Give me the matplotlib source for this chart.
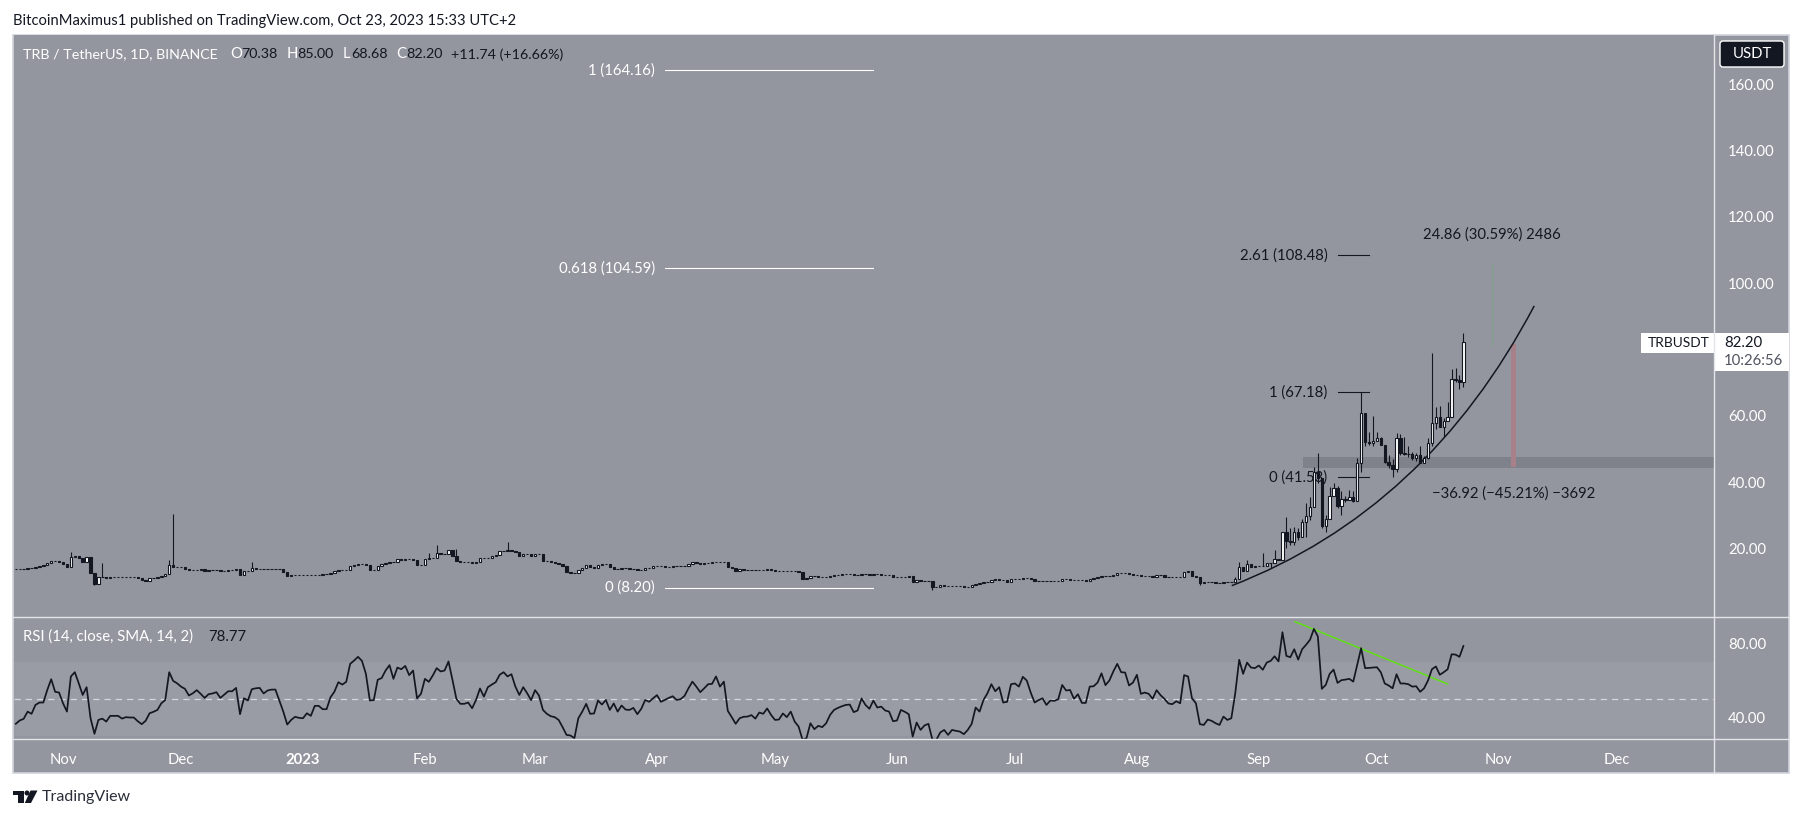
import matplotlib
matplotlib.use('Agg')
import matplotlib.pyplot as plt
import matplotlib.dates as mdates
import numpy as np
import pandas as pd
from matplotlib.path import Path
from matplotlib.patches import PathPatch, Rectangle, Polygon, Circle, FancyBboxPatch

plt.rcParams['font.family'] = ['Lato', 'DejaVu Sans']

W, H = 1807, 818
BG = '#94969f'
BAND = '#9a9ca5'
DARK = '#131722'
LINE = '#e3e5ea'
FS = 10.7

# daily closes, Oct 20 2022 -> Oct 23 2023
closes = [
    13.8, 13.8, 14.0, 14.2, 14.3, 14.6, 14.8, 15.1, 15.6, 16.4,
    16.4, 15.9, 15.5, 14.6, 17.4, 17.9, 17.1, 15.9, 17.4, 12.8,
    9.4, 11.4, 11.6, 11.3, 11.5, 11.5, 11.6, 11.6, 11.6, 11.5,
    11.4, 11.3, 10.6, 10.4, 11.1, 11.3, 11.6, 11.9, 12.3, 15.2,
    14.4, 14.6, 14.4, 13.9, 13.5, 13.5, 13.5, 13.8, 13.4, 13.6,
    13.6, 13.7, 13.4, 13.2, 13.6, 13.7, 13.9, 12.2, 13.2, 13.4,
    14.1, 14.0, 14.0, 13.9, 14.0, 14.0, 14.0, 14.0, 13.1, 11.8,
    12.1, 12.1, 12.1, 12.1, 12.1, 12.1, 12.1, 12.2, 12.5, 12.5,
    12.6, 13.2, 13.5, 13.5, 13.5, 14.9, 15.1, 15.5, 15.4, 15.2,
    13.6, 13.5, 14.9, 15.4, 15.6, 16.1, 16.0, 16.9, 16.7, 16.9,
    16.9, 16.6, 15.1, 15.2, 17.0, 17.2, 17.2, 18.6, 18.5, 18.4,
    19.5, 17.9, 16.4, 16.1, 16.1, 16.0, 15.8, 15.9, 17.3, 17.3,
    17.3, 17.8, 18.1, 19.2, 19.4, 19.6, 19.4, 19.1, 17.8, 18.3,
    18.4, 17.8, 18.4, 18.4, 16.3, 16.2, 15.9, 15.6, 15.3, 14.8,
    13.1, 12.7, 12.6, 13.6, 14.3, 15.1, 14.4, 14.1, 15.2, 15.3,
    15.3, 14.4, 14.0, 14.0, 14.1, 14.2, 13.9, 13.8, 13.6, 13.7,
    14.3, 14.2, 14.7, 14.8, 14.9, 14.6, 14.6, 14.9, 14.9, 14.8,
    14.8, 15.4, 16.0, 15.7, 15.4, 15.6, 15.8, 16.0, 16.1, 16.1,
    16.1, 14.4, 14.1, 13.2, 13.8, 13.5, 13.6, 13.6, 13.6, 13.7,
    13.6, 13.8, 13.7, 13.4, 13.4, 13.3, 13.3, 13.3, 13.3, 12.9,
    11.0, 11.2, 11.9, 11.7, 11.6, 11.5, 11.4, 11.9, 12.1, 12.2,
    12.3, 12.3, 12.3, 12.1, 12.1, 12.4, 12.5, 12.2, 12.4, 12.4,
    12.1, 12.1, 12.1, 11.4, 11.5, 11.5, 11.6, 11.7, 10.0, 10.5,
    10.4, 10.4, 10.3, 8.4, 8.6, 9.0, 8.9, 8.8, 8.8, 8.8,
    8.7, 8.6, 8.6, 9.0, 9.4, 9.6, 9.9, 10.0, 10.6, 10.8,
    10.6, 10.6, 9.9, 10.9, 10.9, 11.0, 11.2, 11.2, 10.9, 10.4,
    10.4, 10.4, 10.3, 10.3, 10.3, 10.3, 10.8, 10.9, 10.7, 10.6,
    10.6, 10.5, 10.3, 11.0, 11.1, 11.4, 11.9, 11.9, 11.7, 12.2,
    12.7, 12.8, 12.7, 12.3, 12.2, 12.2, 11.9, 11.9, 11.7, 11.6,
    12.0, 12.0, 11.6, 11.4, 11.4, 11.4, 11.4, 12.9, 13.2, 11.8,
    11.4, 9.6, 10.0, 10.0, 10.0, 9.8, 9.8, 9.9, 10.0, 9.9,
    11.0, 14.4, 13.4, 15.3, 14.6, 14.8, 14.9, 14.8, 15.7, 15.8,
    16.8, 16.5, 25.0, 22.4, 22.1, 25.0, 23.4, 27.9, 29.9, 32.6,
    43.0, 41.2, 26.8, 29.0, 36.0, 38.4, 33.0, 34.9, 34.7, 35.5,
    34.4, 45.9, 60.8, 52.3, 52.0, 52.6, 53.3, 51.3, 46.2, 45.2,
    44.1, 53.3, 48.9, 48.5, 48.5, 47.3, 48.2, 45.9, 47.2, 51.8,
    57.8, 59.6, 56.8, 58.5, 59.8, 71.2, 70.85, 70.38, 82.2,
]

# wicks that stick out of the body (candle index: price)
wick_highs = {
    14: 19.1, 22: 15.6, 39: 16.6, 40: 30.5, 60: 15.9, 105: 18.6, 107: 21.1, 112: 19.9, 125: 21.9,
    310: 11.5, 311: 15.9, 313: 16.6, 317: 18.6, 320: 19.6, 323: 29.6, 324: 26.1, 325: 26.6,
    326: 26.1, 327: 29.1, 328: 33.7, 329: 35.7, 330: 44.7, 331: 48.7, 333: 30.3, 334: 38.7,
    335: 39.9, 336: 39.0, 337: 37.4, 338: 36.0, 339: 37.7, 340: 37.5, 341: 47.2, 342: 67.18,
    343: 61.0, 344: 55.3, 345: 60.0, 346: 55.3, 347: 53.8, 349: 48.2, 350: 46.9, 351: 54.8,
    352: 54.5, 353: 53.8, 354: 50.9, 355: 49.2, 356: 48.7, 357: 50.9, 358: 47.9, 359: 53.3,
    360: 78.9, 361: 62.6, 362: 63.0, 363: 59.3, 364: 64.1, 365: 74.2, 366: 74.6, 367: 72.3,
    368: 85.0,
}
wick_lows = {
    20: 9.0, 233: 7.5, 301: 9.0, 319: 14.1, 323: 20.2, 324: 21.1, 325: 21.1, 326: 22.6, 328: 23.4,
    329: 28.6, 331: 39.7, 332: 26.1, 333: 24.9, 336: 32.2, 337: 30.1, 338: 34.2, 340: 34.2,
    342: 43.0, 343: 50.9, 344: 51.2, 345: 51.0, 348: 45.9, 349: 44.2, 350: 41.5, 351: 43.2,
    352: 48.2, 353: 48.2, 354: 47.5, 355: 46.7, 356: 46.5, 357: 45.7, 358: 45.7, 359: 46.9,
    360: 50.9, 361: 56.0, 362: 56.6, 363: 53.8, 366: 70.3, 367: 68.1, 368: 68.68,
}

rsi = [
    36.7, 38.5, 39.4, 43.3, 42.1, 46.9, 48.2, 48.2, 55.0, 60.8,
    54.0, 53.6, 47.8, 43.3, 62.3, 64.6, 58.6, 52.3, 56.5, 39.7,
    31.3, 38.8, 39.5, 37.9, 41.0, 41.0, 41.0, 39.5, 40.3, 40.1,
    40.1, 38.1, 36.5, 38.3, 42.4, 43.2, 44.2, 47.8, 49.6, 64.6,
    59.9, 58.6, 56.8, 55.6, 52.0, 53.2, 54.9, 52.9, 50.7, 52.7,
    53.1, 53.8, 50.7, 52.5, 54.3, 54.3, 56.1, 41.9, 50.5, 49.3,
    55.4, 55.9, 56.1, 53.1, 54.7, 55.2, 55.2, 49.3, 43.3, 36.3,
    38.8, 40.5, 39.9, 39.7, 42.4, 41.0, 46.4, 46.4, 44.6, 44.6,
    51.0, 54.1, 59.2, 57.9, 59.4, 69.1, 70.9, 72.9, 70.7, 63.7,
    49.3, 49.5, 60.5, 61.4, 65.5, 68.4, 61.0, 67.1, 66.2, 68.0,
    63.0, 65.5, 50.5, 52.9, 61.0, 59.4, 62.8, 66.8, 65.0, 65.5,
    70.4, 60.5, 50.2, 47.5, 47.5, 48.2, 45.1, 49.6, 55.8, 51.4,
    56.5, 57.9, 59.2, 63.2, 64.6, 62.3, 63.5, 56.8, 52.3, 56.5,
    53.2, 49.5, 54.9, 52.0, 44.2, 42.1, 40.8, 40.3, 38.8, 34.9,
    30.7, 30.4, 28.9, 39.7, 43.3, 47.5, 42.1, 42.3, 49.3, 47.1,
    49.6, 44.2, 47.7, 43.3, 46.6, 44.4, 44.2, 45.3, 41.9, 44.8,
    49.6, 48.6, 50.5, 52.2, 48.6, 49.6, 50.7, 51.6, 49.6, 50.0,
    51.8, 55.9, 59.5, 56.8, 53.8, 55.9, 58.1, 58.3, 62.3, 56.8,
    59.5, 43.7, 40.3, 36.7, 39.7, 40.5, 40.6, 41.4, 39.5, 42.8,
    42.1, 45.0, 41.5, 38.8, 39.0, 42.3, 40.3, 43.3, 37.9, 35.2,
    28.0, 28.9, 37.0, 33.8, 35.6, 34.9, 37.0, 41.5, 44.2, 45.3,
    46.2, 46.9, 47.1, 43.0, 43.9, 50.4, 46.9, 44.8, 49.3, 45.5,
    46.0, 43.9, 43.3, 38.1, 38.5, 44.2, 43.2, 41.9, 29.8, 37.4,
    33.4, 35.8, 36.7, 28.2, 28.0, 32.0, 33.4, 30.7, 33.4, 32.9,
    32.5, 31.1, 33.4, 36.7, 45.5, 43.3, 49.6, 53.2, 58.1, 54.3,
    56.5, 48.2, 48.6, 58.1, 58.5, 56.8, 62.1, 60.1, 53.6, 48.2,
    49.5, 50.5, 46.9, 49.3, 49.1, 50.0, 57.7, 54.7, 55.0, 50.2,
    52.7, 48.0, 48.0, 56.8, 57.0, 59.0, 64.0, 57.6, 60.1, 65.0,
    69.1, 64.6, 64.4, 57.4, 59.0, 63.2, 52.9, 53.6, 52.9, 50.2,
    54.9, 52.2, 50.2, 47.7, 47.3, 48.9, 47.8, 63.0, 62.3, 50.5,
    47.8, 36.5, 36.1, 39.0, 38.3, 37.0, 36.1, 40.6, 38.8, 39.7,
    53.2, 71.3, 63.7, 69.8, 67.1, 66.8, 68.2, 65.9, 69.8, 70.7,
    73.2, 70.4, 86.2, 73.4, 72.7, 77.0, 71.4, 77.0, 79.4, 82.1,
    88.0, 83.9, 55.6, 57.7, 63.7, 66.0, 58.8, 60.3, 60.6, 61.0,
    59.5, 68.6, 77.6, 66.8, 66.9, 67.1, 67.3, 64.6, 58.5, 57.4,
    55.9, 63.5, 58.5, 58.5, 58.1, 56.8, 57.0, 54.0, 55.9, 60.1,
    66.2, 67.7, 63.2, 64.6, 66.2, 74.3, 74.1, 72.9, 78.77,
]

dates = pd.date_range('2022-10-20', periods=len(closes))
day0 = mdates.date2num(dates[0])

# 80.00 sits under the last price tag on the original
price_ticks = [20, 40, 60, 100, 120, 140, 160]
rsi_ticks = [40, 80]
month_ticks = ['2022-11-01', '2022-12-01', '2023-01-01', '2023-02-01', '2023-03-01', '2023-04-01', '2023-05-01',
               '2023-06-01', '2023-07-01', '2023-08-01', '2023-09-01', '2023-10-01', '2023-11-01', '2023-12-01']
month_labels = ['Nov', 'Dec', '2023', 'Feb', 'Mar', 'Apr', 'May', 'Jun', 'Jul', 'Aug', 'Sep', 'Oct', 'Nov', 'Dec']

# fib levels: label, price
white_fibs = [('1 (164.16)', 164.16), ('0.618 (104.59)', 104.59), ('0 (8.20)', 8.20)]
black_fibs = [('2.61 (108.48)', 108.48), ('1 (67.18)', 67.18), ('0 (41.53)', 41.53)]


def d(s):
    return mdates.date2num(pd.Timestamp(s))


def px_axes(x0, y0, x1, y1, **kw):
    return fig.add_axes([x0 / W, 1 - y1 / H, (x1 - x0) / W, (y1 - y0) / H], **kw)


fig = plt.figure(figsize=(W / 100, H / 100), dpi=100, facecolor='white')

# pixel layout
LEFT, AX_R, RIGHT = 13.5, 1713.6, 1789
TOP, PANE, RSI_B, BOTTOM = 34.5, 616.5, 739, 773

ov_back = px_axes(0, 0, W, H)
ov_back.set_xlim(0, W)
ov_back.set_ylim(H, 0)
ov_back.axis('off')
ov_back.add_patch(Rectangle((LEFT, TOP), RIGHT - LEFT, BOTTOM - TOP, fc=BG, ec='#d1d4dc', lw=1.2))

ax = px_axes(LEFT, TOP, AX_R, PANE, facecolor=BG)
ax2 = px_axes(LEFT, PANE, AX_R, RSI_B, facecolor=BG, sharex=ax)
for a in (ax, ax2):
    for s in a.spines.values():
        s.set_visible(False)

xmin, xmax = day0 - 0.585, day0 + 431.6
ax.set_xlim(xmin, xmax)
ax.set_ylim(-0.44, 175)
ax2.set_ylim(28.49, 94.7)

ax.yaxis.tick_right()
ax.set_yticks(price_ticks)
ax.set_yticklabels(['%.2f' % v for v in price_ticks])
ax2.yaxis.tick_right()
ax2.set_yticks(rsi_ticks)
ax2.set_yticklabels(['%.2f' % v for v in rsi_ticks])
ax.tick_params(axis='y', length=0, pad=10.5, labelcolor='white', labelsize=FS)
ax2.tick_params(axis='y', length=0, pad=10.5, labelcolor='white', labelsize=FS)
ax.tick_params(axis='x', length=0, labelbottom=False)

ax2.set_xticks([d(m) for m in month_ticks])
ax2.set_xticklabels(month_labels)
ax2.tick_params(axis='x', length=0, pad=10, labelcolor='white', labelsize=FS)
for lab in ax2.get_xticklabels():
    if lab.get_text() == '2023':
        lab.set_fontweight('bold')

# candles, open is the previous close
x = mdates.date2num(dates)
c = np.array(closes)
o = np.r_[c[0], c[:-1]]
hi = np.maximum(o, c)
lo = np.minimum(o, c)
for i, v in wick_highs.items():
    hi[i] = v
for i, v in wick_lows.items():
    lo[i] = v
up = c >= o
ax.vlines(x, lo, hi, color=DARK, lw=0.8, zorder=5)
ax.bar(x, np.abs(c - o), bottom=np.minimum(o, c), width=0.6,
       color=np.where(up, 'white', DARK).tolist(), edgecolor=DARK, lw=0.8, zorder=6)

# white fib on the left
for lab, v in white_fibs:
    ax.plot([d('2023-04-03'), d('2023-05-26')], [v, v], color='white', lw=0.8, zorder=3)
    ax.annotate(lab, (d('2023-04-03'), v), xytext=(-10, 0), textcoords='offset pixels', ha='right', va='center',
                color='white', fontsize=FS, zorder=3)

# black fib on the rally
for lab, v in black_fibs:
    ax.plot([d('2023-09-21'), d('2023-09-29')], [v, v], color=DARK, lw=0.8, zorder=3)
    ax.annotate(lab, (d('2023-09-21'), v), xytext=(-10, 0), textcoords='offset pixels', ha='right', va='center',
                color=DARK, fontsize=FS, zorder=3)

# support zone
ax.add_patch(Rectangle((day0 + 327.3, 44.4), xmax - day0 - 327.3, 3.15, fc='#80828b', ec='none', zorder=2))

# parabolic support
curve = Path([(day0 + 309.1, 8.85), (day0 + 358.7, 31.6), (day0 + 386, 93.2)],
             [Path.MOVETO, Path.CURVE3, Path.CURVE3])
ax.add_patch(PathPatch(curve, fc='none', ec=DARK, lw=1.1, zorder=4))

# projections
ax.plot([day0 + 375.2] * 2, [81.4, 106.1], color='#7fa088', lw=0.8, zorder=3)
ax.add_patch(Rectangle((day0 + 380, 44.6), 1.3, 37.1, fc='#a8808a', ec='none', zorder=3))
ax.text(day0 + 375.2, 114.6, '24.86 (30.59%) 2486', ha='center', va='center', color=DARK, fontsize=FS)
ax.text(day0 + 380.7, 36.5, '\u221236.92 (\u221245.21%) \u22123692', ha='center', va='center', color=DARK, fontsize=FS)

# rsi pane
ax2.axhspan(30, 70, color=BAND, lw=0, zorder=1)
ax2.axhline(50, color='#d5d7dc', lw=0.9, dashes=(5, 4), zorder=2)
ax2.plot(x, rsi, color=DARK, lw=1.25, zorder=4)
ax2.plot([day0 + 325.2, day0 + 364], [91.9, 58.2], color='#5fdf14', lw=1.1, zorder=3)

# everything drawn in figure pixels from here
ov = px_axes(0, 0, W, H)
ov.set_xlim(0, W)
ov.set_ylim(H, 0)
ov.axis('off')
ov.patch.set_alpha(0)

ov.plot([LEFT, RIGHT], [PANE, PANE], color=LINE, lw=1)
ov.plot([LEFT, RIGHT], [RSI_B, RSI_B], color=LINE, lw=1)
ov.plot([AX_R, AX_R], [TOP, BOTTOM], color=LINE, lw=1)

ov.text(13, 20.5, 'BitcoinMaximus1 published on TradingView.com, Oct 23, 2023 15:33 UTC+2',
        color=DARK, fontsize=10.6, va='center')

# legend row
ov.text(23, 54.5, 'TRB / TetherUS, 1D, BINANCE', color='white', fontsize=10.3, va='center')
for xp, s in [(230, 'O'), (287, 'H'), (343, 'L'), (396, 'C')]:
    ov.text(xp, 54.5, s, color='white', fontsize=FS, va='center')
for xp, s in [(241, '70.38'), (297, '85.00'), (351, '68.68'), (406, '82.20'), (451, '+11.74 (+16.66%)')]:
    ov.text(xp, 54.5, s, color=DARK, fontsize=10.3, va='center')

ov.text(23, 636.7, 'RSI (14, close, SMA, 14, 2)', color='white', fontsize=FS, va='center')
ov.text(208, 636.7, '78.77', color=DARK, fontsize=FS, va='center')

# USDT button
ov.add_patch(FancyBboxPatch((1720, 41), 64, 26, boxstyle='round,pad=0,rounding_size=3', fc=DARK, ec='white', lw=1))
ov.text(1752, 54, 'USDT', color='white', fontsize=FS, ha='center', va='center')

# last price tag
ov.add_patch(Rectangle((1641, 332.7), 148, 20, fc='white', ec='none'))
ov.add_patch(Rectangle((AX_R, 352), RIGHT - AX_R, 18.7, fc='white', ec='none'))
ov.text(1648, 342.7, 'TRBUSDT', color=DARK, fontsize=9.9, va='center')
ov.text(1724, 342.7, '82.20', color=DARK, fontsize=FS, va='center')
ov.text(1724, 361, '10:26:56', color='#50535e', fontsize=FS, va='center')

# TradingView mark
ov.add_patch(Polygon([(13.4, 790.5), (24, 790.5), (24, 803), (18, 803), (18, 795), (13.4, 795)], fc=DARK, ec='none'))
ov.add_patch(Circle((27, 793), 2.5, fc=DARK, ec='none'))
ov.add_patch(Polygon([(30.5, 790.5), (37.5, 790.5), (31, 803), (24.8, 803)], fc=DARK, ec='none'))
ov.text(42, 797, 'TradingView', color='#2a2e39', fontsize=11.5, va='center')

fig.savefig('out.png', dpi=100, facecolor='white')
